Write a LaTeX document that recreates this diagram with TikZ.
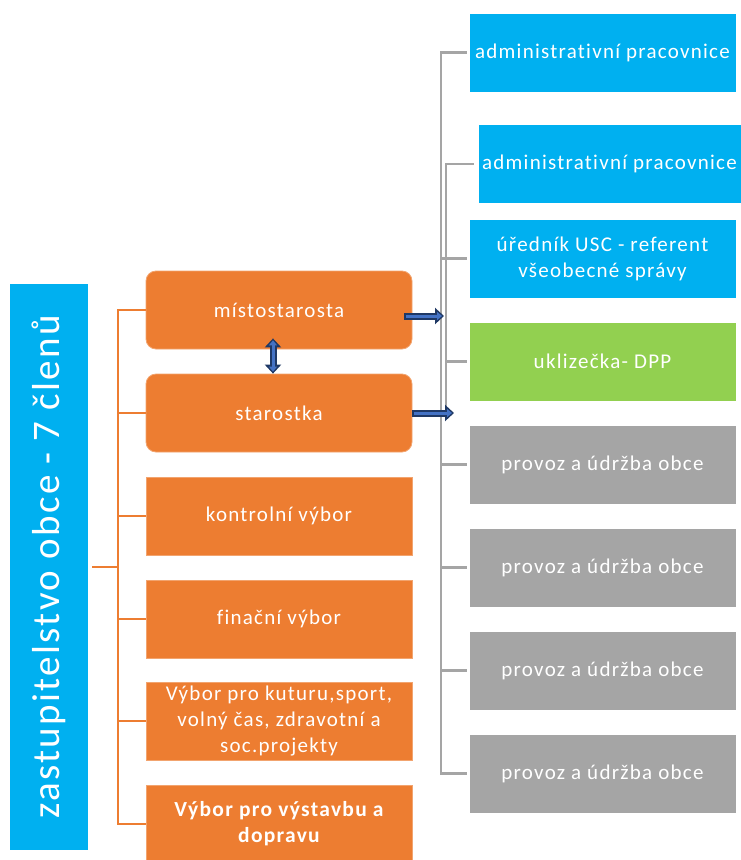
\documentclass[tikz,border=0pt]{standalone}
\usepackage{fontspec}
\setmainfont{Carlito}[LetterSpace=6, Ligatures=NoCommon]
\usetikzlibrary{arrows.meta,calc}
\definecolor{orng}{HTML}{ED7D31}
\definecolor{cyanb}{HTML}{00B0F0}
\definecolor{grn}{HTML}{92D050}
\definecolor{gry}{HTML}{A5A5A5}
\definecolor{navyc}{HTML}{1F3864}
\definecolor{ablue}{HTML}{4472C4}
\begin{document}
\begin{tikzpicture}[x=1pt,y=-1pt,
  box/.style={inner sep=0pt, text=white, align=center, font=\fontsize{21}{26}\selectfont},
  obox/.style={box, fill=orng, draw=orng!70!white, line width=0.8pt, minimum width=266pt, minimum height=78pt},
  rbox/.style={box, draw=white, line width=0.8pt, minimum width=267pt, minimum height=79pt},
  cbox/.style={rbox, fill=cyanb},
  gbox/.style={rbox, fill=grn},
  pbox/.style={rbox, fill=gry},
  oline/.style={draw=orng, line width=2pt},
  gline/.style={draw=gry, line width=2.5pt},
  bouter/.style={draw=navyc, line width=7pt},
  binner/.style={draw=ablue, line width=3pt}
]
\useasboundingbox (0,0) rectangle (741,860);

% blue left box
\node[box, fill=cyanb, rotate=90, minimum width=566pt, minimum height=78pt,
      font=\fontsize{39}{44}\selectfont] (z) at (49,567) {zastupitelstvo obce - 7 členů};

% orange boxes
\node[obox, rounded corners=10pt] (m) at (279,310) {místostarosta};
\node[obox, rounded corners=10pt] (s) at (279,413) {starostka};
\node[obox] (kv) at (279,516) {kontrolní výbor};
\node[obox] (fv) at (279,619) {finační výbor};
\node[obox] (kul) at (279,721) {Výbor pro kuturu,sport,\\volný čas, zdravotní a\\soc.projekty};
\node[obox, font=\fontsize{21.5}{26}\selectfont\bfseries] (vd) at (279,824) {Výbor pro výstavbu a\\dopravu};

% right boxes
\node[cbox] (a1) at (602.5,52.5) {administrativní pracovnice};
\node[cbox, minimum width=263pt] (a2) at (609.5,164) {administrativní pracovnice};
\node[cbox] (u) at (602.5,258.5) {úředník USC - referent\\všeobecné správy};
\node[gbox] (k) at (602.5,361.5) {uklizečka- DPP};
\node[pbox] (p1) at (602.5,464.5) {provoz a údržba obce};
\node[pbox] (p2) at (602.5,567.5) {provoz a údržba obce};
\node[pbox] (p3) at (602.5,670.5) {provoz a údržba obce};
\node[pbox] (p4) at (602.5,773.5) {provoz a údržba obce};

% bus coordinates
\coordinate (ox) at (118,0);
\coordinate (bx) at (441,0);
\coordinate (bx2) at (446,0);
\coordinate (mt) at (444,316);
\coordinate (st) at (454,413);

% orange bracket
\draw[oline] ([xshift=4pt]z.south) -- (z.south -| ox);
\draw[oline] (m.west) -- (m.west -| ox) -- (ox |- vd.west) -- (vd.west);
\foreach \n in {s,kv,fv,kul} \draw[oline] (\n.west) -- (\n.west -| ox);

% gray connectors
\draw[gline] ([xshift=-2pt]a1.west) -- (a1.west -| bx) |- ([xshift=-2pt]p4.west);
\foreach \n in {u,p1,p2,p3} \draw[gline] ([xshift=-2pt]\n.west) -- (\n.west -| bx);
\draw[gline] ([xshift=-4pt]a2.west) -- (a2.west -| bx2) -- (bx2 |- 0,408);
\draw[gline] ([xshift=-2pt]k.west) -- (k.west -| bx2);

% block arrows
\draw[bouter, -{Triangle[length=9pt,width=16pt]}] ([shift={(-8,6)}]m.east) -- (mt);
\draw[binner, -{Triangle[length=5pt,width=8pt]}, shorten >=2pt, shorten <=1.5pt] ([shift={(-8,6)}]m.east) -- (mt);
\draw[bouter, -{Triangle[length=9pt,width=16pt]}] (s.east) -- (st);
\draw[binner, -{Triangle[length=5pt,width=8pt]}, shorten >=2pt, shorten <=1.5pt] (s.east) -- (st);
\draw[bouter, {Triangle[length=9pt,width=16pt]}-{Triangle[length=9pt,width=16pt]}] ([shift={(-6,-11)}]m.south) -- ([xshift=-6pt]s.north);
\draw[binner, {Triangle[length=5pt,width=8pt]}-{Triangle[length=5pt,width=8pt]}, shorten >=2pt, shorten <=2pt] ([shift={(-6,-11)}]m.south) -- ([xshift=-6pt]s.north);
\end{tikzpicture}
\end{document}
